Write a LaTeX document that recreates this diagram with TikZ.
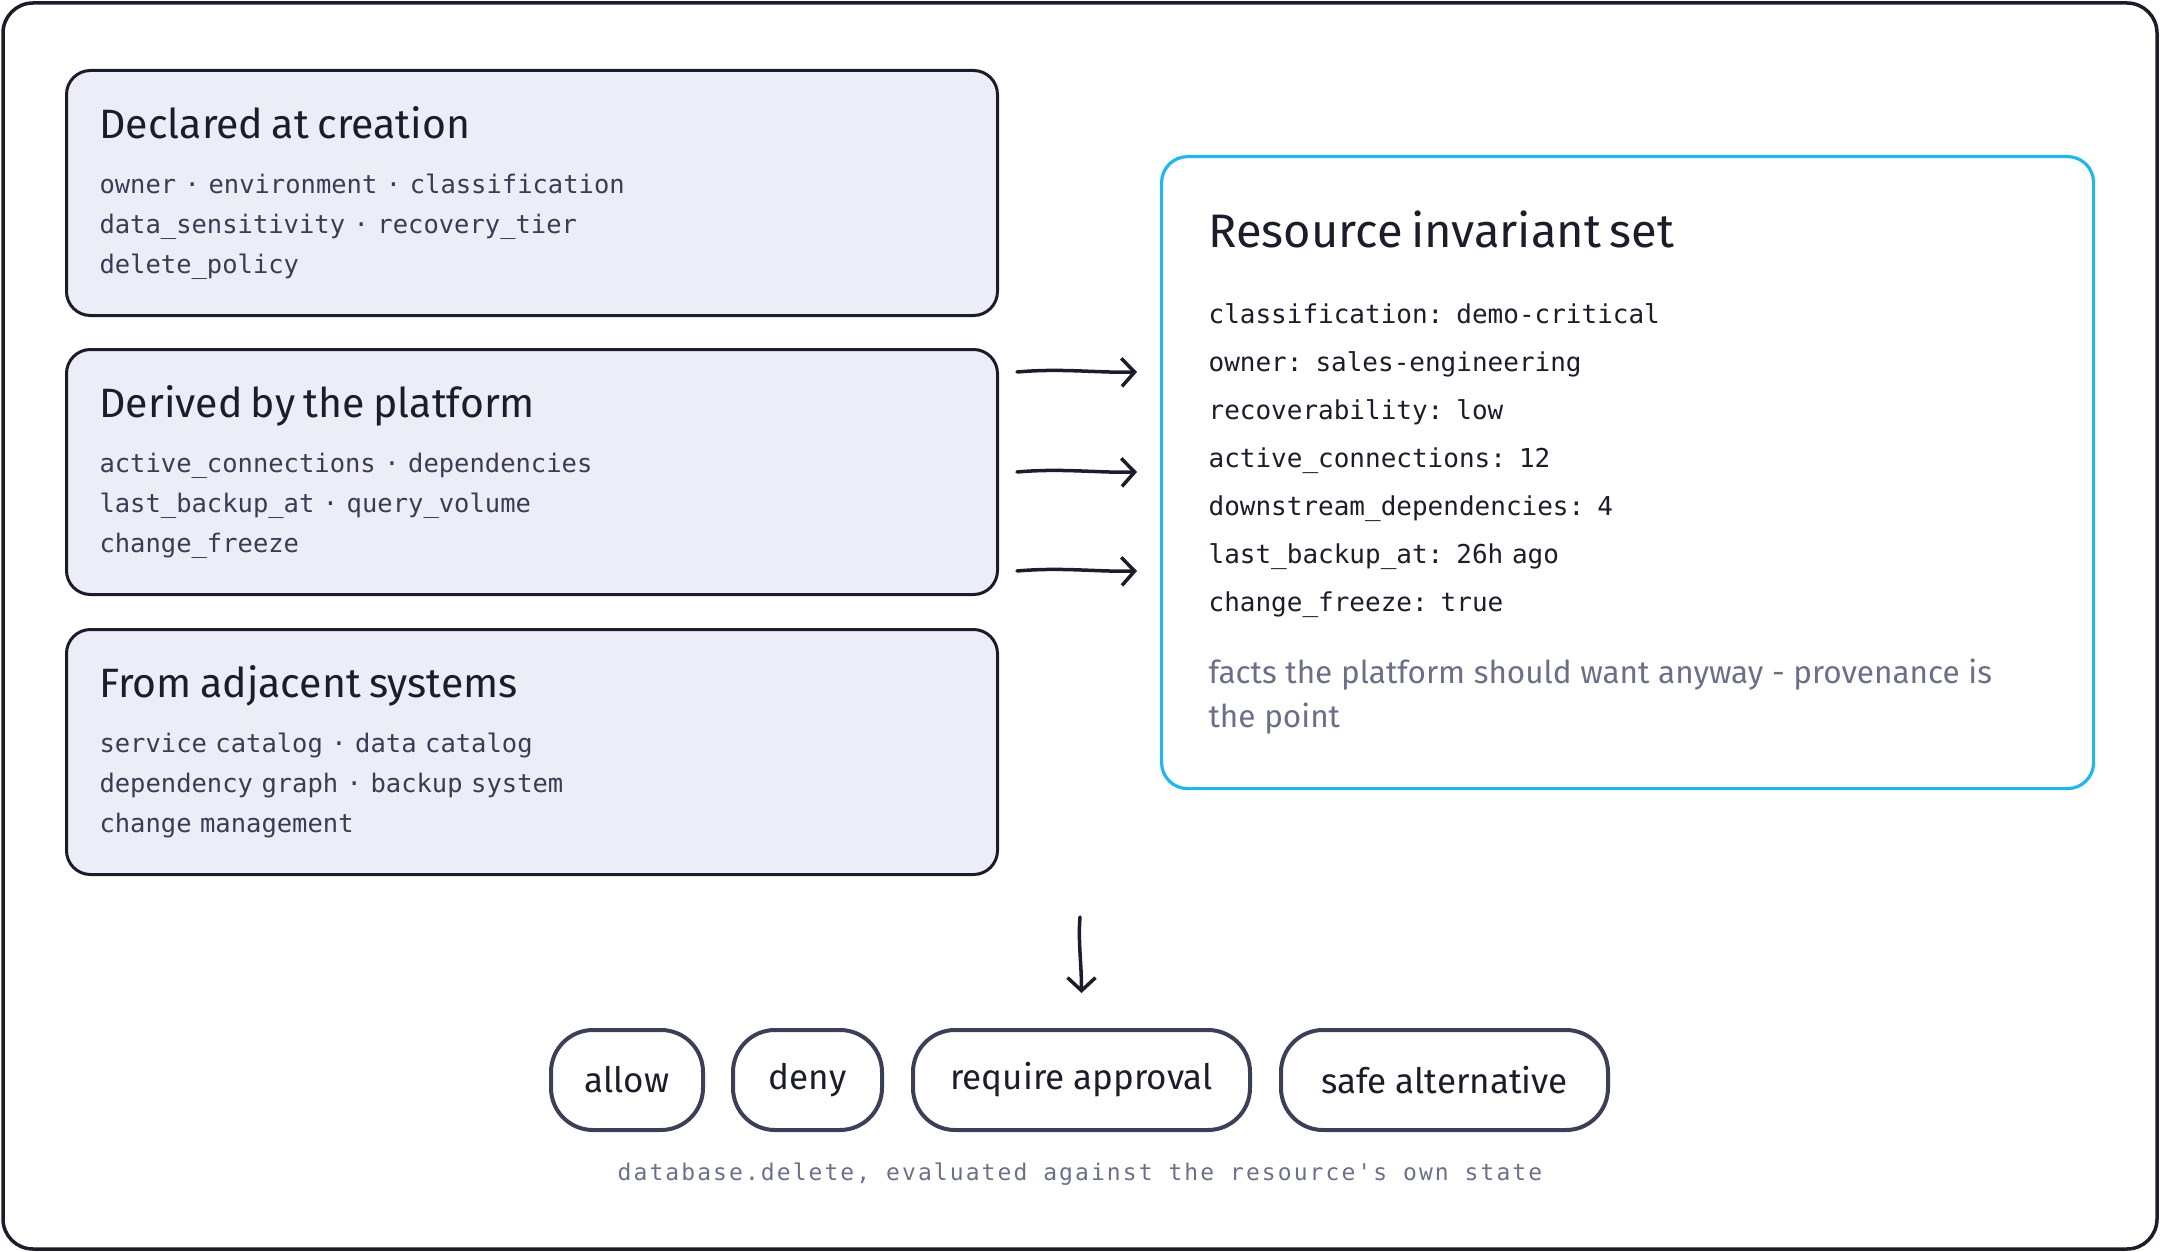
\documentclass[tikz,border=0pt]{standalone}
\usepackage{fontspec}
\setmainfont{Fira Sans}
\setmonofont{DejaVu Sans Mono}
\usepackage{xcolor}
\usetikzlibrary{arrows.meta,positioning}
\definecolor{ink}{HTML}{1B1D2A}
\definecolor{monoink}{HTML}{3A3D52}
\definecolor{lav}{HTML}{EDEDF8}
\definecolor{cyanline}{HTML}{22B5EE}
\definecolor{noteink}{HTML}{6B7089}
\definecolor{pillink}{HTML}{3B4056}
\tikzset{
  frame/.style={draw=ink, line width=3.5pt, rounded corners=30pt},
  srcbox/.style={rectangle, rounded corners=24pt, draw=ink, line width=3pt, fill=lav, text width=865pt, inner xsep=33pt, inner ysep=0pt, minimum height=245pt, align=left, text=monoink, font=\fontsize{25.5}{40}\selectfont\ttfamily},
  invbox/.style={rectangle, rounded corners=26pt, draw=cyanline, line width=3.2pt, fill=white, text width=838pt, inner xsep=47pt, inner ysep=0pt, minimum height=632pt, align=left, text=ink, font=\fontsize{26}{48}\selectfont\ttfamily},
  pill/.style={rectangle, rounded corners=42pt, draw=pillink, line width=4pt, minimum height=100pt, inner xsep=0pt, text=ink, font=\fontsize{35}{40}\selectfont},
  flow/.style={-{Straight Barb[length=13pt,width=28pt]}, line width=3.5pt, draw=ink, line cap=round}
}
\newcommand{\boxtitle}[1]{{\color{ink}\rmfamily\fontsize{41}{40}\selectfont #1}\\[15pt]}

\begin{document}
\begin{tikzpicture}[x=1pt,y=-1pt]
\useasboundingbox (0,0) rectangle (2160,1252);
\draw[frame] (3,3) rectangle (2157,1249);
% where the facts come from
\node[srcbox, anchor=north west] (declared) at (65,69) {\boxtitle{Declared at creation}owner · environment · classification\\data\_sensitivity · recovery\_tier\\delete\_policy};
\node[srcbox, below=31pt of declared] (derived) {\boxtitle{Derived by the platform}active\_connections · dependencies\\last\_backup\_at · query\_volume\\change\_freeze};
\node[srcbox, below=32pt of derived] (adjacent) {\boxtitle{From adjacent systems}service catalog · data catalog\\dependency graph · backup system\\change management};
% the invariant set
\node[invbox, anchor=north west] (invariant) at (1160,155) {{\rmfamily\fontsize{47}{48}\selectfont Resource invariant set}\\[28pt]
classification: demo-critical\\
owner: sales-engineering\\
recoverability: low\\
active\_connections: 12\\
downstream\_dependencies: 4\\
last\_backup\_at: 26h ago\\
change\_freeze: true\\[24pt]
{\rmfamily\fontsize{31.5}{48}\selectfont\color{noteink}facts the platform should want anyway - provenance is\\[-4pt]the point}};
% outcomes
\node[pill, minimum width=152pt, anchor=west] (allow) at (549,1080) {allow};
\node[pill, minimum width=149pt, right=26pt of allow] (deny) {deny};
\node[pill, minimum width=337pt, right=27pt of deny] (approve) {require approval};
\node[pill, minimum width=327pt, right=27pt of approve] (safealt) {safe alternative};
\node[font=\fontsize{23}{26}\selectfont\ttfamily\addfontfeature{LetterSpace=9}, text=noteink] (caption) at (1080,1174) {database.delete, evaluated against the resource's own state};
\coordinate (inL) at (invariant.west |- derived.east);
\coordinate (evalin) at (1080,917);
\foreach \dy in {100,0,-99}
  \draw[flow] ([shift={(18pt,\dy pt)}]derived.east) .. controls +(45pt,4pt) and +(-40pt,-1pt) .. ([shift={(-23pt,\dy pt)}]inL);
\draw[flow] (evalin) .. controls +(-2pt,-25pt) and +(0pt,30pt) .. ([yshift=35pt]approve.north);
\end{tikzpicture}
\end{document}
